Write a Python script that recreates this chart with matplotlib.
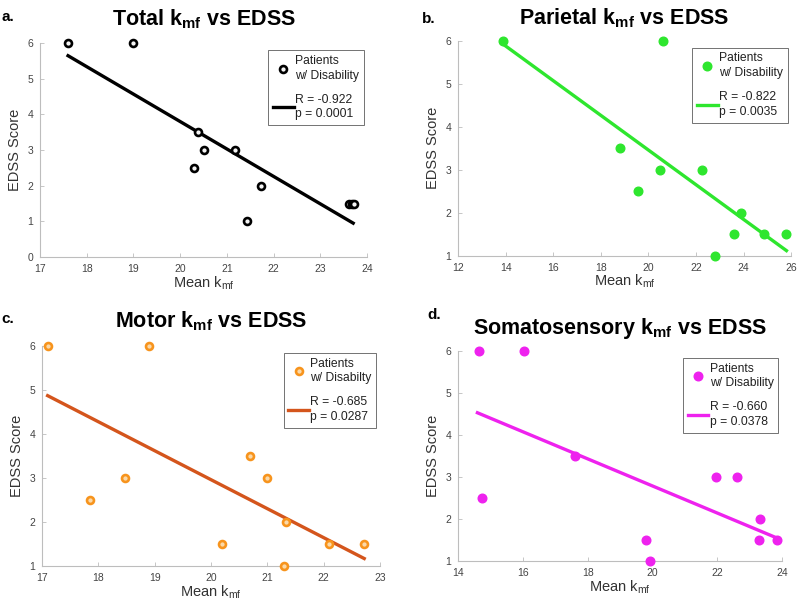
import matplotlib
matplotlib.use("Agg")
import matplotlib.pyplot as plt
import numpy as np

plt.rcParams['font.family'] = ['Liberation Sans', 'DejaVu Sans']
plt.rcParams['mathtext.fontset'] = 'custom'
plt.rcParams['mathtext.rm'] = 'Liberation Sans'
plt.rcParams['mathtext.bf'] = 'Liberation Sans:bold'

# Panel a: Total
total_x = [17.6, 19.0, 20.3, 20.38, 20.5, 21.18, 21.42, 21.73, 23.62, 23.67, 23.72]
total_y = [6, 6, 2.5, 3.5, 3, 3, 1, 2, 1.5, 1.5, 1.5]
total_fit_x = [17.6, 23.7]
total_fit_y = [5.65, 0.95]

# Panel b: Parietal
par_x = [13.9, 20.6, 18.8, 19.55, 20.5, 22.25, 23.9, 23.6, 24.85, 25.8, 22.8]
par_y = [6, 6, 3.5, 2.5, 3, 3, 2, 1.5, 1.5, 1.5, 1]
par_fit_x = [13.9, 25.8]
par_fit_y = [5.92, 1.12]

# Panel c: Motor
mot_x = [17.1, 18.9, 17.85, 18.48, 20.2, 20.7, 21.0, 21.33, 21.3, 22.1, 22.72]
mot_y = [6, 6, 2.5, 3, 1.5, 3.5, 3, 2, 1, 1.5, 1.5]
mot_fit_x = [17.1, 22.72]
mot_fit_y = [4.87, 1.17]

# Panel d: Somatosensory
som_x = [14.65, 16.05, 14.75, 17.6, 19.8, 19.92, 21.95, 22.6, 23.32, 23.28, 23.85]
som_y = [6, 6, 2.5, 3.5, 1.5, 1, 3, 3, 2, 1.5, 1.5]
som_fit_x = [14.6, 23.9]
som_fit_y = [4.53, 1.53]

panels = [
    dict(pos=[0.05, 0.578, 0.409, 0.351], x=total_x, y=total_y, fx=total_fit_x, fy=total_fit_y,
         xlim=(17, 24), ylim=(0, 6), xticks=range(17, 25), yticks=range(0, 7),
         mc='black', lc='black', hollow=True, title='Total', lab='a.', labxy=(2, 17), tpad=13,
         leg1='Patients\nw/ Disability', leg2='R = -0.922\np = 0.0001'),
    dict(pos=[0.5725, 0.580, 0.4165, 0.353], x=par_x, y=par_y, fx=par_fit_x, fy=par_fit_y,
         xlim=(12, 26), ylim=(1, 6), xticks=range(12, 27, 2), yticks=range(1, 7),
         mc='#2ee62e', lc='#2ee62e', hollow=False, title='Parietal', lab='b.', labxy=(422, 19), tpad=12,
         leg1='Patients\nw/ Disability', leg2='R = -0.822\np = 0.0035'),
    dict(pos=[0.0525, 0.0706, 0.4225, 0.3614], x=mot_x, y=mot_y, fx=mot_fit_x, fy=mot_fit_y,
         xlim=(17, 23), ylim=(1, 6), xticks=range(17, 24), yticks=range(1, 7),
         mc='#f7941d', lc='#d4551c', hollow=True, title='Motor', lab='c.', labxy=(1, 319), tpad=13,
         leg1='Patients\nw/ Disabilty', leg2='R = -0.685\np = 0.0287'),
    dict(pos=[0.5725, 0.0788, 0.405, 0.3448], x=som_x, y=som_y, fx=som_fit_x, fy=som_fit_y,
         xlim=(14, 24), ylim=(1, 6), xticks=range(14, 25, 2), yticks=range(1, 7),
         mc='#ee22ee', lc='#ee22ee', hollow=False, title='Somatosensory', lab='d.', labxy=(427, 315), tpad=12,
         leg1='Patients\nw/ Disability', leg2='R = -0.660\np = 0.0378'),
]

W, H = 800, 609
fig = plt.figure(figsize=(8, 6.09), dpi=100)
for p in panels:
    ax = fig.add_axes(p['pos'])
    if p['hollow']:
        ax.plot(p['x'], p['y'], 'o', ms=5, mfc='#f4f4f4' if p['mc'] == 'black' else '#fbd9a8',
                mec=p['mc'], mew=1.9, ls='none', label=p['leg1'], clip_on=False, zorder=3)
    else:
        ax.plot(p['x'], p['y'], 'o', ms=6.2, color=p['mc'], ls='none', label=p['leg1'],
                clip_on=False, zorder=3)
    ax.plot(p['fx'], p['fy'], '-', color=p['lc'], lw=2.4, label=p['leg2'], zorder=2)
    ax.set_xlim(p['xlim'])
    ax.set_ylim(p['ylim'])
    ax.set_xticks(list(p['xticks']))
    ax.set_yticks(list(p['yticks']))
    for s in ['top', 'right']:
        ax.spines[s].set_visible(False)
    for s in ['left', 'bottom']:
        ax.spines[s].set_color('#bdbdbd')
        ax.spines[s].set_linewidth(0.8)
    ax.tick_params(direction='in', length=3, width=0.6, color='#bdbdbd',
                   labelsize=7.5, labelcolor='#444444')
    ax.tick_params(axis='x', pad=5)
    ax.tick_params(axis='y', pad=5)
    ax.set_xlabel('Mean k$_{\\mathrm{mf}}$', fontsize=10.5, color='#333333', labelpad=0)
    ax.set_ylabel('EDSS Score', fontsize=10.5, color='#333333', labelpad=4)
    ax.set_title(p['title'] + ' k$_{\\mathbf{mf}}$ vs EDSS', fontsize=15.5, fontweight='bold',
                 pad=p['tpad'])
    leg = ax.legend(loc='upper right', fontsize=8.7, frameon=True, fancybox=False,
                    edgecolor='#333333', labelspacing=1.0, handlelength=1.7,
                    handletextpad=0.1, borderpad=0.4, borderaxespad=0.3,
                    bbox_to_anchor=(1.0, 0.985))
    leg.get_frame().set_linewidth(0.6)
    for t in leg.get_texts():
        t.set_color('#222222')
        t.set_linespacing(1.3)
    fig.text(p['labxy'][0] / W, 1 - p['labxy'][1] / H, p['lab'],
             fontsize=11, fontweight='bold', va='center')

fig.savefig('out.png', dpi=100)
